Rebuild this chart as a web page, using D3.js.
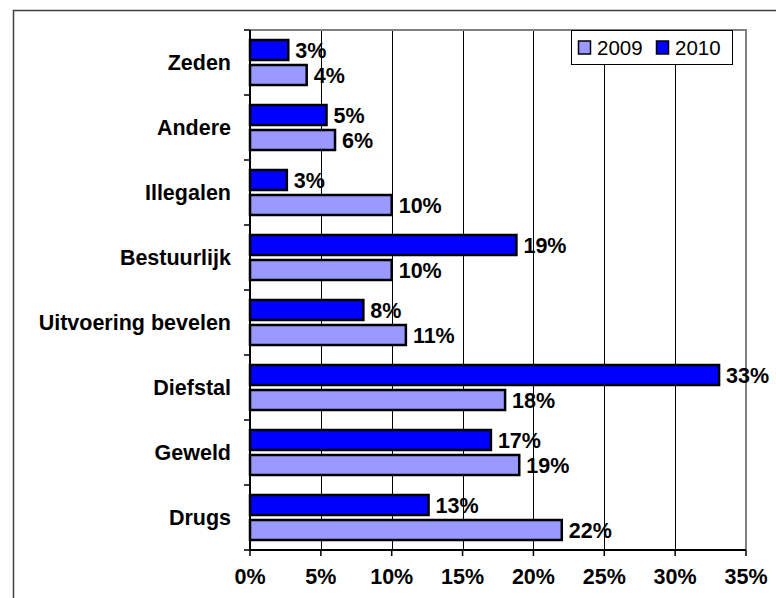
<!DOCTYPE html>
<html>
<head>
<meta charset="utf-8">
<script src="https://cdn.jsdelivr.net/npm/d3@7"></script>
<style>
  body { margin: 0; background: #fff; }
  text { font-family: "Liberation Sans", Arial, sans-serif; }
</style>
</head>
<body>
<div id="main"></div>
<script>
// Data (percent)
var categories = ['Zeden', 'Andere', 'Illegalen', 'Bestuurlijk', 'Uitvoering bevelen', 'Diefstal', 'Geweld', 'Drugs'];
var series = ['2010', '2009'];
var values2009 = [4.0, 6.0, 10.0, 10.0, 11.0, 18.0, 19.0, 22.0];
var values2010 = [2.7, 5.4, 2.6, 18.8, 8.0, 33.1, 17.0, 12.6];
var tickValues = [0, 5, 10, 15, 20, 25, 30, 35];

var colors = { '2009': '#9999ff', '2010': '#0000ff' };

// Layout
var svgWidth = 776;
var svgHeight = 598;
var plot = { l: 250, r: 746, t: 30, b: 550 };
var fontSize = '21.5px';

var svg = d3.select('#main')
  .append('svg')
  .attr('width', svgWidth)
  .attr('height', svgHeight);

// outer chart frame (partly out of the picture)
svg.append('rect')
  .attr('x', 13.5)
  .attr('y', 10.5)
  .attr('width', 800)
  .attr('height', 700)
  .attr('fill', 'none')
  .attr('stroke', '#404040')
  .attr('stroke-width', 1.5);

var xScale = d3.scaleLinear()
  .domain([0, 35])
  .range([plot.l, plot.r]);

var yScale = d3.scaleBand()
  .domain(categories)
  .range([plot.t, plot.b]);

var inner = d3.scaleBand()
  .domain(series)
  .range([0, yScale.bandwidth()])
  .paddingInner(0.2)
  .paddingOuter(0.4);

// gridlines
svg.append('g')
  .selectAll('line')
  .data(tickValues.filter((d) => d > 0 && d < 35))
  .enter()
  .append('line')
  .attr('x1', (d) => Math.round(xScale(d)) + 0.5)
  .attr('x2', (d) => Math.round(xScale(d)) + 0.5)
  .attr('y1', plot.t)
  .attr('y2', plot.b)
  .attr('stroke', '#000')
  .attr('stroke-width', 1);

// gray plot border top and right
svg.append('path')
  .attr('d', d3.line()([[plot.l, plot.t], [plot.r, plot.t], [plot.r, plot.b]]))
  .attr('fill', 'none')
  .attr('stroke', '#808080')
  .attr('stroke-width', 2);

// bars
var rows = [];
categories.forEach((c, i) => {
  rows.push({ cat: c, s: '2010', v: values2010[i] });
  rows.push({ cat: c, s: '2009', v: values2009[i] });
});

svg.append('g')
  .selectAll('rect')
  .data(rows)
  .enter()
  .append('rect')
  .attr('x', xScale(0))
  .attr('y', (d) => yScale(d.cat) + inner(d.s))
  .attr('width', (d) => xScale(d.v) - xScale(0))
  .attr('height', inner.bandwidth())
  .attr('fill', (d) => colors[d.s])
  .attr('stroke', '#000')
  .attr('stroke-width', 2.5);

// value labels
svg.append('g')
  .selectAll('text')
  .data(rows)
  .enter()
  .append('text')
  .attr('x', (d) => xScale(d.v) + 7)
  .attr('y', (d) => yScale(d.cat) + inner(d.s) + inner.bandwidth() / 2)
  .attr('dy', '0.35em')
  .style('font-size', fontSize)
  .style('font-weight', 'bold')
  .text((d) => Math.round(d.v) + '%');

// left axis: ticks between categories
var yAxisG = svg.append('g');
yAxisG.append('line')
  .attr('x1', plot.l).attr('x2', plot.l)
  .attr('y1', plot.t).attr('y2', plot.b)
  .attr('stroke', '#000').attr('stroke-width', 2);

var bounds = categories.map((c) => yScale(c)).concat([plot.b]);
yAxisG.selectAll('.tick')
  .data(bounds)
  .enter()
  .append('line')
  .attr('x1', plot.l - 6).attr('x2', plot.l)
  .attr('y1', (d) => d).attr('y2', (d) => d)
  .attr('stroke', '#000').attr('stroke-width', 1.5);

yAxisG.selectAll('.cat')
  .data(categories)
  .enter()
  .append('text')
  .attr('x', plot.l - 19)
  .attr('y', (d) => yScale(d) + yScale.bandwidth() / 2)
  .attr('dy', '0.35em')
  .attr('text-anchor', 'end')
  .style('font-size', fontSize)
  .style('font-weight', 'bold')
  .text((d) => d);

// bottom axis
var xAxisG = svg.append('g');
xAxisG.append('line')
  .attr('x1', plot.l).attr('x2', plot.r)
  .attr('y1', plot.b).attr('y2', plot.b)
  .attr('stroke', '#000').attr('stroke-width', 2);

xAxisG.selectAll('.tick')
  .data(tickValues)
  .enter()
  .append('line')
  .attr('x1', (d) => xScale(d)).attr('x2', (d) => xScale(d))
  .attr('y1', plot.b).attr('y2', plot.b + 6)
  .attr('stroke', '#000').attr('stroke-width', 1.5);

xAxisG.selectAll('.lbl')
  .data(tickValues)
  .enter()
  .append('text')
  .attr('x', (d) => xScale(d))
  .attr('y', 584)
  .attr('text-anchor', 'middle')
  .style('font-size', fontSize)
  .style('font-weight', 'bold')
  .text((d) => d + '%');

// legend
var legendG = svg.append('g')
  .attr('transform', 'translate(' + [571, 30] + ')');

legendG.append('rect')
  .attr('x', 0.5).attr('y', 0.5)
  .attr('width', 161).attr('height', 34)
  .attr('fill', '#fff')
  .attr('stroke', '#000')
  .attr('stroke-width', 1);

var legendItems = ['2009', '2010'];
legendItems.forEach((s, i) => {
  var g = legendG.append('g')
    .attr('transform', 'translate(' + [7 + i * 78, 0] + ')');
  g.append('rect')
    .attr('x', 0.5).attr('y', 11)
    .attr('width', 12).attr('height', 13)
    .attr('fill', colors[s])
    .attr('stroke', '#000')
    .attr('stroke-width', 1.5);
  g.append('text')
    .attr('x', 19)
    .attr('y', 25)
    .style('font-size', '20.5px')
    .text(s);
});
</script>
</body>
</html>
